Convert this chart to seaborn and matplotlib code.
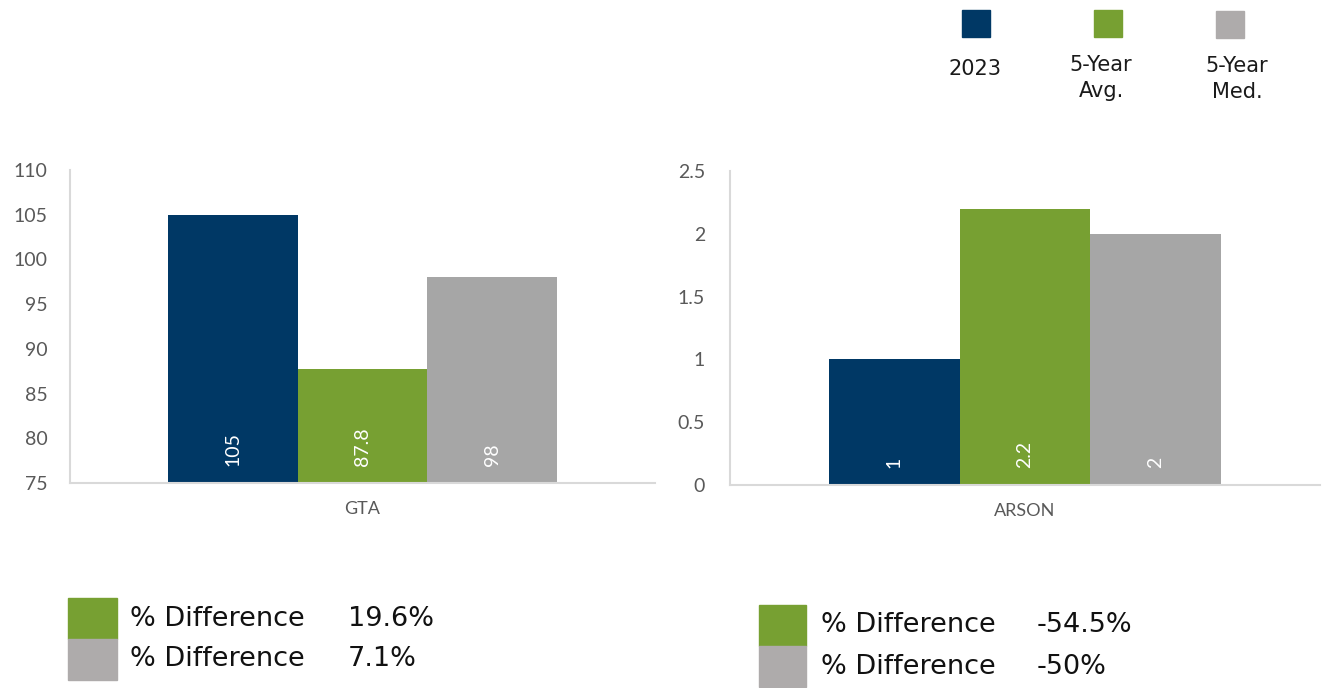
import matplotlib
matplotlib.use("Agg")
import matplotlib.pyplot as plt
import numpy as np
import pandas as pd
import seaborn as sns
from matplotlib.patches import Rectangle

# ---- data ----
series = ["2023", "5-Year Avg.", "5-Year Med."]
legend_labels = ["2023", "5-Year\nAvg.", "5-Year\nMed."]
gta_values = [105, 87.8, 98]
arson_values = [1, 2.2, 2]
gta_ticks = [75, 80, 85, 90, 95, 100, 105, 110]
arson_ticks = [0, 0.5, 1, 1.5, 2, 2.5]
diff_label = "% Difference"
gta_diffs = ["19.6%", "7.1%"]
arson_diffs = ["-54.5%", "-50%"]

NAVY = "#003865"
GREEN = "#77A032"
BAR_GRAY = "#A6A6A6"
BOX_GRAY = "#AEABAB"
SPINE = "#D9D9D9"
TICK = "#595959"

sns.set_theme(style="white")
plt.rcParams["font.family"] = ["Lato", "DejaVu Sans"]

fig = plt.figure(figsize=(13.24, 6.88), dpi=100)
ax_gta = fig.add_axes([70 / 1324, 1 - 483 / 688, 585 / 1324, 313 / 688])
ax_arson = fig.add_axes([730 / 1324, 1 - 485 / 688, 590 / 1324, 314 / 688])


def draw_panel(ax, crime, values, ticks, pad):
    df = pd.DataFrame({"crime": [crime] * len(series), "series": series, "value": values})
    sns.barplot(data=df, x="crime", y="value", hue="series", hue_order=series,
                palette=[NAVY, GREEN, BAR_GRAY], width=0.665, saturation=1,
                linewidth=0, legend=False, ax=ax)
    ax.set_xlim(-0.5, 0.5)
    ax.set_ylim(ticks[0], ticks[-1])
    ax.set_yticks(ticks)
    ax.set_yticklabels([f"{t:g}" for t in ticks])
    ax.set_xlabel("")
    ax.set_ylabel("")
    for side in ["top", "right"]:
        ax.spines[side].set_visible(False)
    for side in ["left", "bottom"]:
        ax.spines[side].set_color(SPINE)
        ax.spines[side].set_linewidth(1.5)
    ax.tick_params(axis="y", length=0, pad=pad, labelsize=14, labelcolor=TICK)
    ax.tick_params(axis="x", length=0, pad=13, labelsize=13, labelcolor=TICK)
    for container, v in zip(ax.containers, values):
        for bar in container:
            ax.annotate(f"{v:g}", xy=(bar.get_x() + bar.get_width() / 2, 0),
                        xycoords=("data", "axes fraction"), xytext=(0, 12),
                        textcoords="offset points", rotation=90, ha="center",
                        va="bottom", color="white", fontsize=14)


draw_panel(ax_gta, "GTA", gta_values, gta_ticks, 16)
draw_panel(ax_arson, "ARSON", arson_values, arson_ticks, 18)

# ---- top legend: squares above labels ----
W, H = 1324, 688
legend_x = [976, 1108, 1230]
legend_y = [10, 10, 11]
for x, y, col in zip(legend_x, legend_y, [NAVY, GREEN, BOX_GRAY]):
    fig.patches.append(Rectangle(((x - 14) / W, 1 - (y + 27) / H), 28 / W, 27 / H,
                                 transform=fig.transFigure, color=col))
text_x = [975, 1101, 1237]
text_y = [69, 78, 79]
for x, y, lab in zip(text_x, text_y, legend_labels):
    fig.text(x / W, 1 - y / H, lab, ha="center", va="center", fontsize=15,
             color="#1a1a1a", family="DejaVu Sans", linespacing=1.35)


# ---- bottom difference tables ----
def diff_table(x0, y0, box_w, box_h, text_x, val_x, diffs):
    for i, (col, val) in enumerate(zip([GREEN, BOX_GRAY], diffs)):
        top = y0 + i * box_h
        fig.patches.append(Rectangle((x0 / W, 1 - (top + box_h) / H), box_w / W, box_h / H,
                                     transform=fig.transFigure, color=col))
        yc = 1 - (top + box_h / 2) / H
        fig.text(text_x / W, yc, diff_label, ha="left", va="center", fontsize=19.5,
                 color="#111111", family="DejaVu Sans")
        fig.text(val_x / W, yc, val, ha="left", va="center", fontsize=19.5,
                 color="#111111", family="DejaVu Sans")


diff_table(68, 598, 49, 41, 130, 348, gta_diffs)
diff_table(759, 605, 47, 41, 821, 1037, arson_diffs)

fig.savefig("out.png", dpi=100)
